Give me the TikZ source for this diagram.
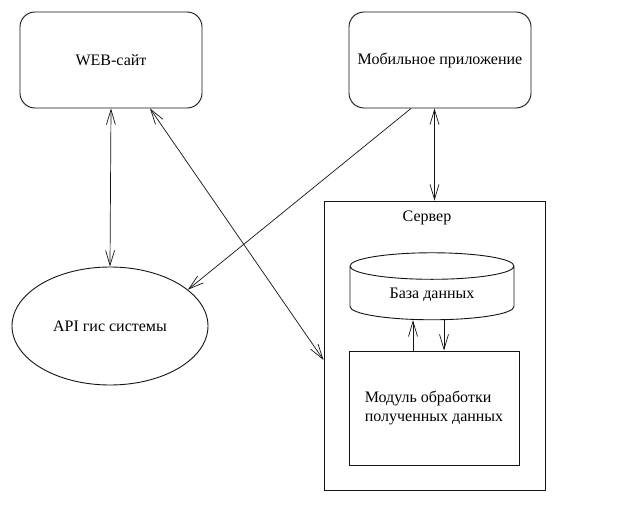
\documentclass[tikz,border=0pt]{standalone}
\usepackage{fontspec}
\setmainfont{Liberation Serif}
\usetikzlibrary{arrows.meta,positioning,shapes.geometric}
\definecolor{Ink}{RGB}{20,20,20}
\tikzset{
  appbox/.style={draw=Ink, line width=0.9pt, rounded corners=15pt, align=center,
    minimum width=182pt, minimum height=96pt, font=\fontsize{16}{19}\selectfont},
  apibox/.style={draw=Ink, line width=0.9pt, ellipse, minimum width=196pt, minimum height=118pt,
    font=\fontsize{16}{19}\selectfont},
  srvbox/.style={draw=Ink, line width=0.9pt, minimum width=221pt, minimum height=289pt},
  dbbox/.style={draw=Ink, line width=0.9pt, cylinder, shape border rotate=90, aspect=0.29,
    minimum width=164pt, minimum height=67pt, font=\fontsize{16}{19}\selectfont},
  modbox/.style={draw=Ink, line width=0.9pt, minimum width=170pt, minimum height=114pt, align=left,
    font=\fontsize{16}{19.5}\selectfont},
  lbl/.style={font=\fontsize{16}{19}\selectfont, inner sep=1pt},
  arr/.style={-{Straight Barb[length=15pt, width=9pt]}, draw=Ink, line width=0.7pt},
  biarr/.style={{Straight Barb[length=15pt, width=9pt]}-{Straight Barb[length=15pt, width=9pt]}, draw=Ink, line width=0.7pt},
}

\begin{document}
\begin{tikzpicture}[x=1pt, y=-1pt]
\useasboundingbox[fill=white] (0,0) rectangle (637,532);

% ================= clients =================
\node[appbox] (web) at (111,60) {WEB-сайт};
\node[appbox] (mobile) at (440,60) {Мобильное приложение};
\node[apibox] (api) at (110,326) {API гис системы};

% ================= server =================
\node[srvbox] (server) at (434.5,345.5) {};
\node[lbl] (srvlabel) at (427,218) {Сервер};
\node[dbbox] (db) at (432,295) {База данных};
\node[modbox] (module) at (434,408) {Модуль обработки\\полученных данных};

% links
\draw[biarr] (web.south) -- (api.north);
\draw[arr] ([xshift=-29pt]mobile.south) -- (api.25);
\draw[biarr] ([xshift=39pt]web.south) -- ([yshift=-14.5pt]server.west);
\draw[biarr] (server.north |- mobile.south) -- (server.north);
\draw[arr] ([xshift=-21pt]module.north) -- ([xshift=-19pt]db.south);
\draw[arr] ([xshift=12pt]db.south) -- ([xshift=10pt]module.north);

\end{tikzpicture}
\end{document}
